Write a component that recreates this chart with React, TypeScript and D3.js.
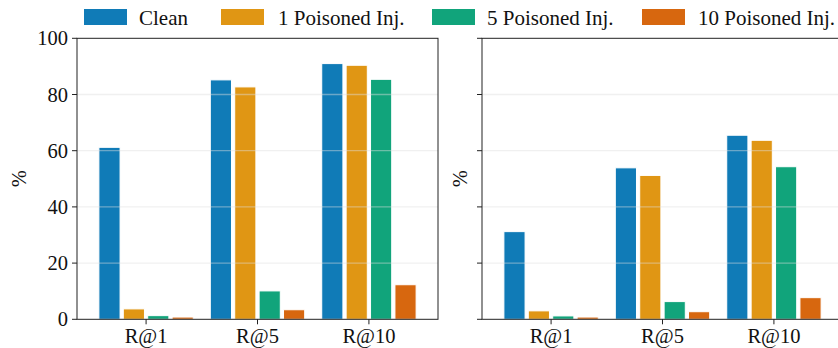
import React from "react";
import * as d3 from "d3";

const categories = ["R@1", "R@5", "R@10"];
const seriesNames = ["Clean", "1 Poisoned Inj.", "5 Poisoned Inj.", "10 Poisoned Inj."];
const colors = ["#0173b2", "#de8f05", "#029e73", "#d55e00"];

const leftClean = [61.2, 85.2, 91.0];
const leftP1 = [3.7, 82.7, 90.4];
const leftP5 = [1.3, 10.1, 85.4];
const leftP10 = [0.8, 3.4, 12.3];

const rightClean = [31.2, 53.9, 65.5];
const rightP1 = [3.0, 51.2, 63.7];
const rightP5 = [1.2, 6.3, 54.3];
const rightP10 = [0.8, 2.7, 7.7];

const yTicks = [0, 20, 40, 60, 80, 100];

const W = 838;
const H = 348;
const FONT = "Liberation Serif, Tinos, Times New Roman, Times, Nimbus Roman, DejaVu Serif, serif";
const top = 38.3;
const bottom = 319.3;

const legendPatchX = [84, 221, 432, 642];
const legendTextX = [139, 278, 487, 698];

function Panel({ x0, x1, data, showLabels, ylabelX }: { x0: number; x1: number; data: number[][]; showLabels: boolean; ylabelX: number }) {
  const x = d3.scaleLinear().domain([-0.62, 2.62]).range([x0, x1]);
  const y = d3.scaleLinear().domain([0, 100]).range([bottom, top]);
  const step = 0.219;
  const bw = 0.19;
  return (
    <g>
      {data.map((vals, si) =>
        vals.map((v, ci) => {
          const cx = ci + (si - 1.5) * step;
          const xa = x(cx - bw / 2);
          const xb = x(cx + bw / 2);
          return (
            <rect
              key={`${si}-${ci}`}
              x={xa}
              y={y(v)}
              width={xb - xa}
              height={y(0) - y(v)}
              fill={colors[si]}
              fillOpacity={0.94}
              stroke="#ffffff"
              strokeWidth={1}
            />
          );
        })
      )}
      {yTicks.slice(1, -1).map((t) => (
        <line key={`g${t}`} x1={x0} x2={x1} y1={y(t)} y2={y(t)} stroke="#dddddd" strokeOpacity={0.45} strokeWidth={1.3} />
      ))}
      <rect x={x0} y={top} width={x1 - x0} height={bottom - top} fill="none" stroke="#222" strokeWidth={1} />
      {yTicks.map((t) => (
        <g key={`yt${t}`}>
          <line x1={x0 - 5} x2={x0} y1={y(t)} y2={y(t)} stroke="#222" strokeWidth={1} />
          {showLabels && (
            <text x={x0 - 9} y={y(t)} dy="0.35em" textAnchor="end" fontSize={20.5} style={{ fontFamily: FONT }} fill="#111">
              {t}
            </text>
          )}
        </g>
      ))}
      {categories.map((c, i) => (
        <g key={c}>
          <line x1={x(i)} x2={x(i)} y1={bottom} y2={bottom + 5} stroke="#222" strokeWidth={1} />
          <text x={x(i)} y={342.5} textAnchor="middle" fontSize={20.5} style={{ fontFamily: FONT }} fill="#111">
            {c}
          </text>
        </g>
      ))}
      <text
        transform={`translate(${ylabelX},${(top + bottom) / 2}) rotate(-90)`}
        textAnchor="middle"
        dy="0.35em"
        fontSize={20.5}
        style={{ fontFamily: FONT }}
        fill="#111"
      >
        %
      </text>
    </g>
  );
}

export default function App() {
  return (
    <div style={{ position: "fixed", left: 0, top: 0, width: W, height: H, background: "#fff" }}>
      <svg width={W} height={H} viewBox={`0 0 ${W} ${H}`} style={{ display: "block" }}>
        <rect x={0} y={0} width={W} height={H} fill="#fff" />
        <Panel x0={77} x1={438} data={[leftClean, leftP1, leftP5, leftP10]} showLabels={true} ylabelX={19} />
        <Panel x0={482} x1={843} data={[rightClean, rightP1, rightP5, rightP10]} showLabels={false} ylabelX={460} />
        {seriesNames.map((s, i) => (
          <g key={s}>
            <rect x={legendPatchX[i]} y={9} width={43} height={16} fill={colors[i]} fillOpacity={0.94} />
            <text x={legendTextX[i]} y={25} fontSize={21} style={{ fontFamily: FONT }} fill="#111">
              {s}
            </text>
          </g>
        ))}
      </svg>
    </div>
  );
}
